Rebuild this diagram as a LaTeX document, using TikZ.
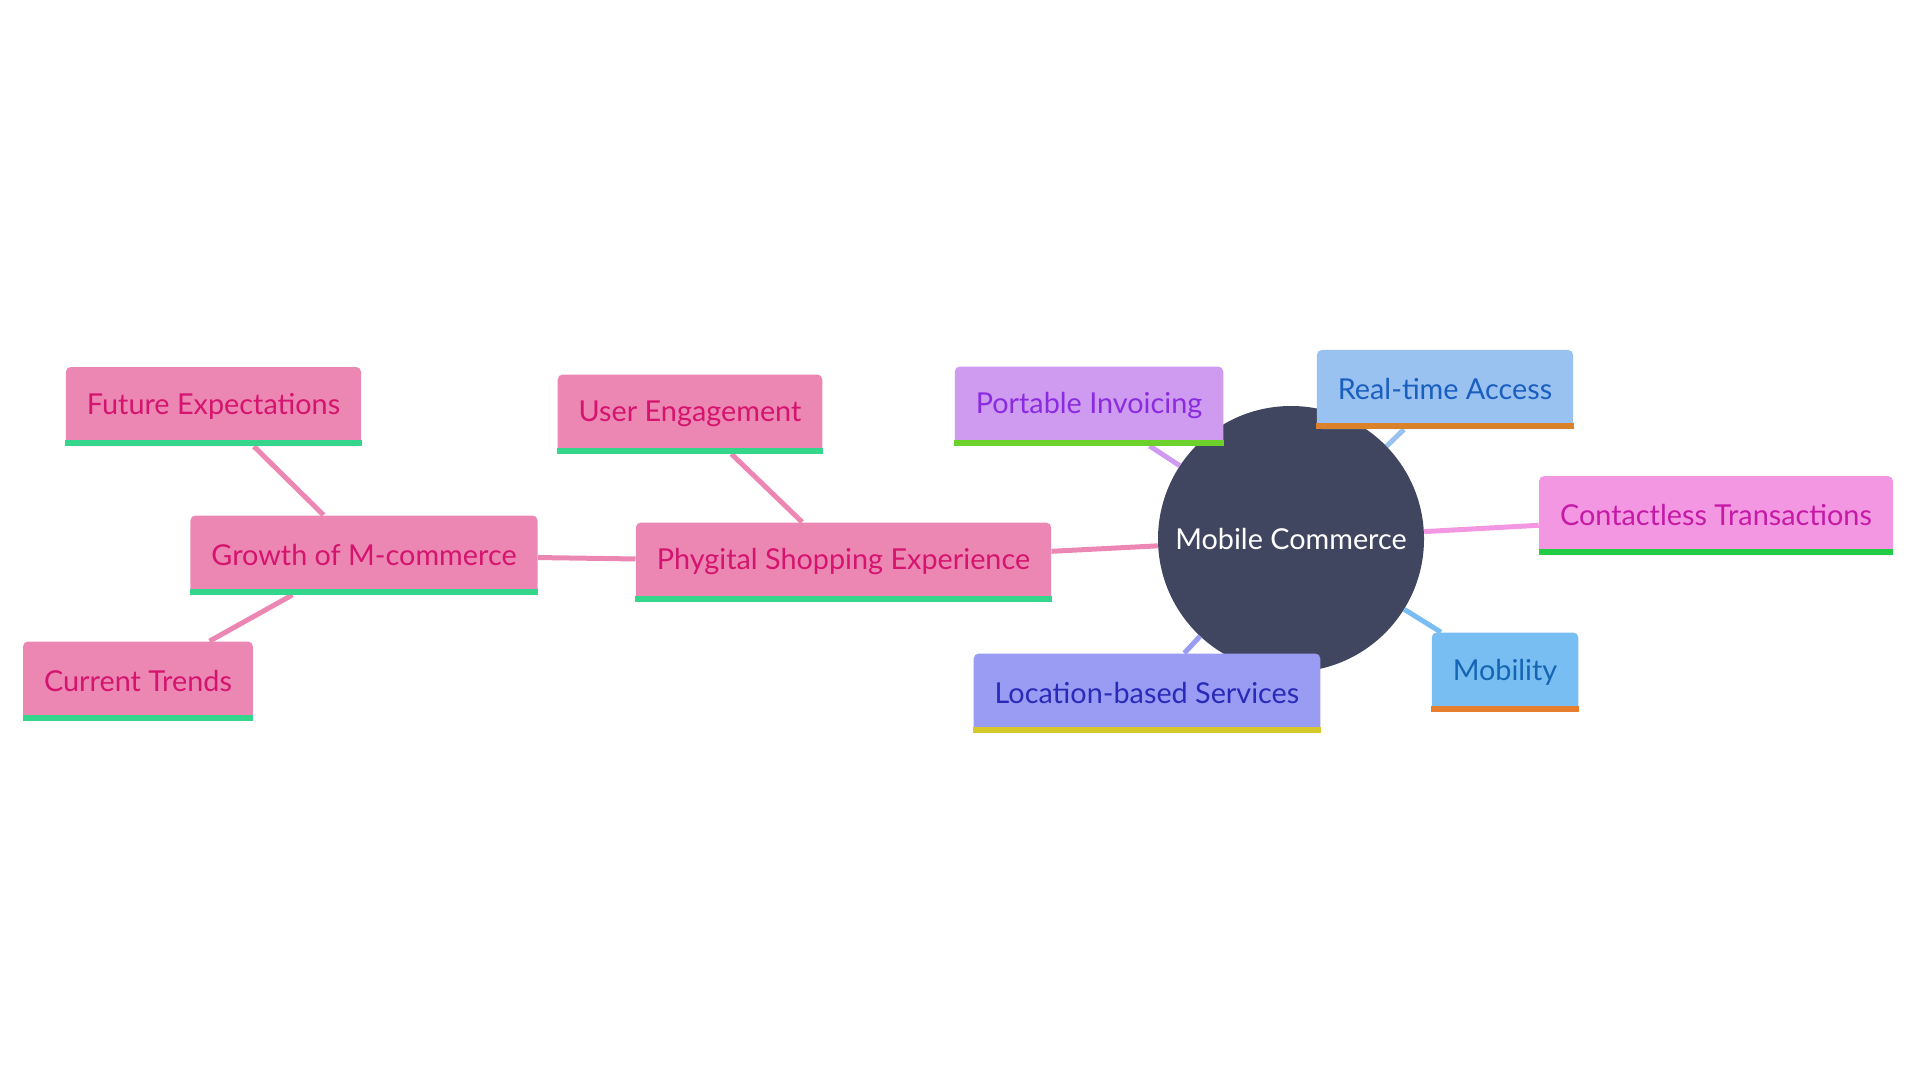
\documentclass[tikz,border=0pt]{standalone}
\usepackage{fontspec}
\setmainfont{Lato}
\usepackage{xcolor}
\usetikzlibrary{backgrounds}

\definecolor{hubgray}{HTML}{404660}
\definecolor{pinkfill}{HTML}{EC87B4}
\definecolor{pinktext}{HTML}{D4146E}
\definecolor{mintbar}{HTML}{33D68A}
\definecolor{lilacfill}{HTML}{CE9BF0}
\definecolor{lilactext}{HTML}{8B2BE0}
\definecolor{limebar}{HTML}{6CD12A}
\definecolor{skyfill}{HTML}{9AC2F0}
\definecolor{skytext}{HTML}{1A5FC0}
\definecolor{rustbar}{HTML}{D9822B}
\definecolor{magfill}{HTML}{F497E2}
\definecolor{magtext}{HTML}{C41AA6}
\definecolor{grassbar}{HTML}{22CC44}
\definecolor{bluefill}{HTML}{79BEF2}
\definecolor{bluetext}{HTML}{1565B5}
\definecolor{orangebar}{HTML}{E67E2E}
\definecolor{perifill}{HTML}{999CF2}
\definecolor{peritext}{HTML}{2A2AB8}
\definecolor{mustardbar}{HTML}{D6C82A}

\begin{document}
\begin{tikzpicture}[x=0.5pt,y=-0.5pt,
  topic/.style={rounded corners=2.5pt,minimum height=39.5pt,inner xsep=10.5pt,
                font=\fontsize{14.4}{17}\selectfont},
  link/.style={line width=2.5pt}]
  \useasboundingbox (0,0) rectangle (1920,1080);

  % central hub
  \node[circle,fill=hubgray,text=white,minimum size=133pt,
        font=\fontsize{14.4}{17}\selectfont] (hub) at (1291,539) {Mobile Commerce};

  % left branch (all pink)
  \node[topic,fill=pinkfill,text=pinktext] (phy) at (843.5,562) {Phygital Shopping Experience};
  \node[topic,fill=pinkfill,text=pinktext] (user) at (690,414) {User Engagement};
  \node[topic,fill=pinkfill,text=pinktext] (growth) at (364,555) {Growth of M-commerce};
  \node[topic,fill=pinkfill,text=pinktext] (future) at (213.5,406.5) {Future Expectations};
  \node[topic,fill=pinkfill,text=pinktext] (trends) at (138,681) {Current Trends};

  % right branches
  \node[topic,fill=lilacfill,text=lilactext] (invoice) at (1089,406) {Portable Invoicing};
  \node[topic,fill=skyfill,text=skytext] (realtime) at (1445,389.5) {Real-time Access};
  \node[topic,fill=magfill,text=magtext] (contact) at (1716,515.5) {Contactless Transactions};
  \node[topic,fill=bluefill,text=bluetext] (mobility) at (1505,672) {Mobility};
  \node[topic,fill=perifill,text=peritext] (location) at (1147,693) {Location-based Services};

  % bottom accent bars
  \foreach \n/\c in {phy/mintbar, user/mintbar, growth/mintbar, future/mintbar,
                     trends/mintbar, invoice/limebar, realtime/rustbar,
                     contact/grassbar, mobility/orangebar, location/mustardbar}
    \fill[\c] (\n.south west) rectangle ([yshift=3pt]\n.south east);

  % connectors behind the nodes
  \begin{scope}[on background layer]
    \foreach \a/\b/\c in {growth/future/pinkfill, growth/trends/pinkfill,
                          growth/phy/pinkfill, phy/user/pinkfill, phy/hub/pinkfill,
                          hub/invoice/lilacfill, hub/realtime/skyfill,
                          hub/contact/magfill, hub/mobility/bluefill,
                          hub/location/perifill}
      \draw[link,\c] (\a) -- (\b);
  \end{scope}

\end{tikzpicture}
\end{document}
